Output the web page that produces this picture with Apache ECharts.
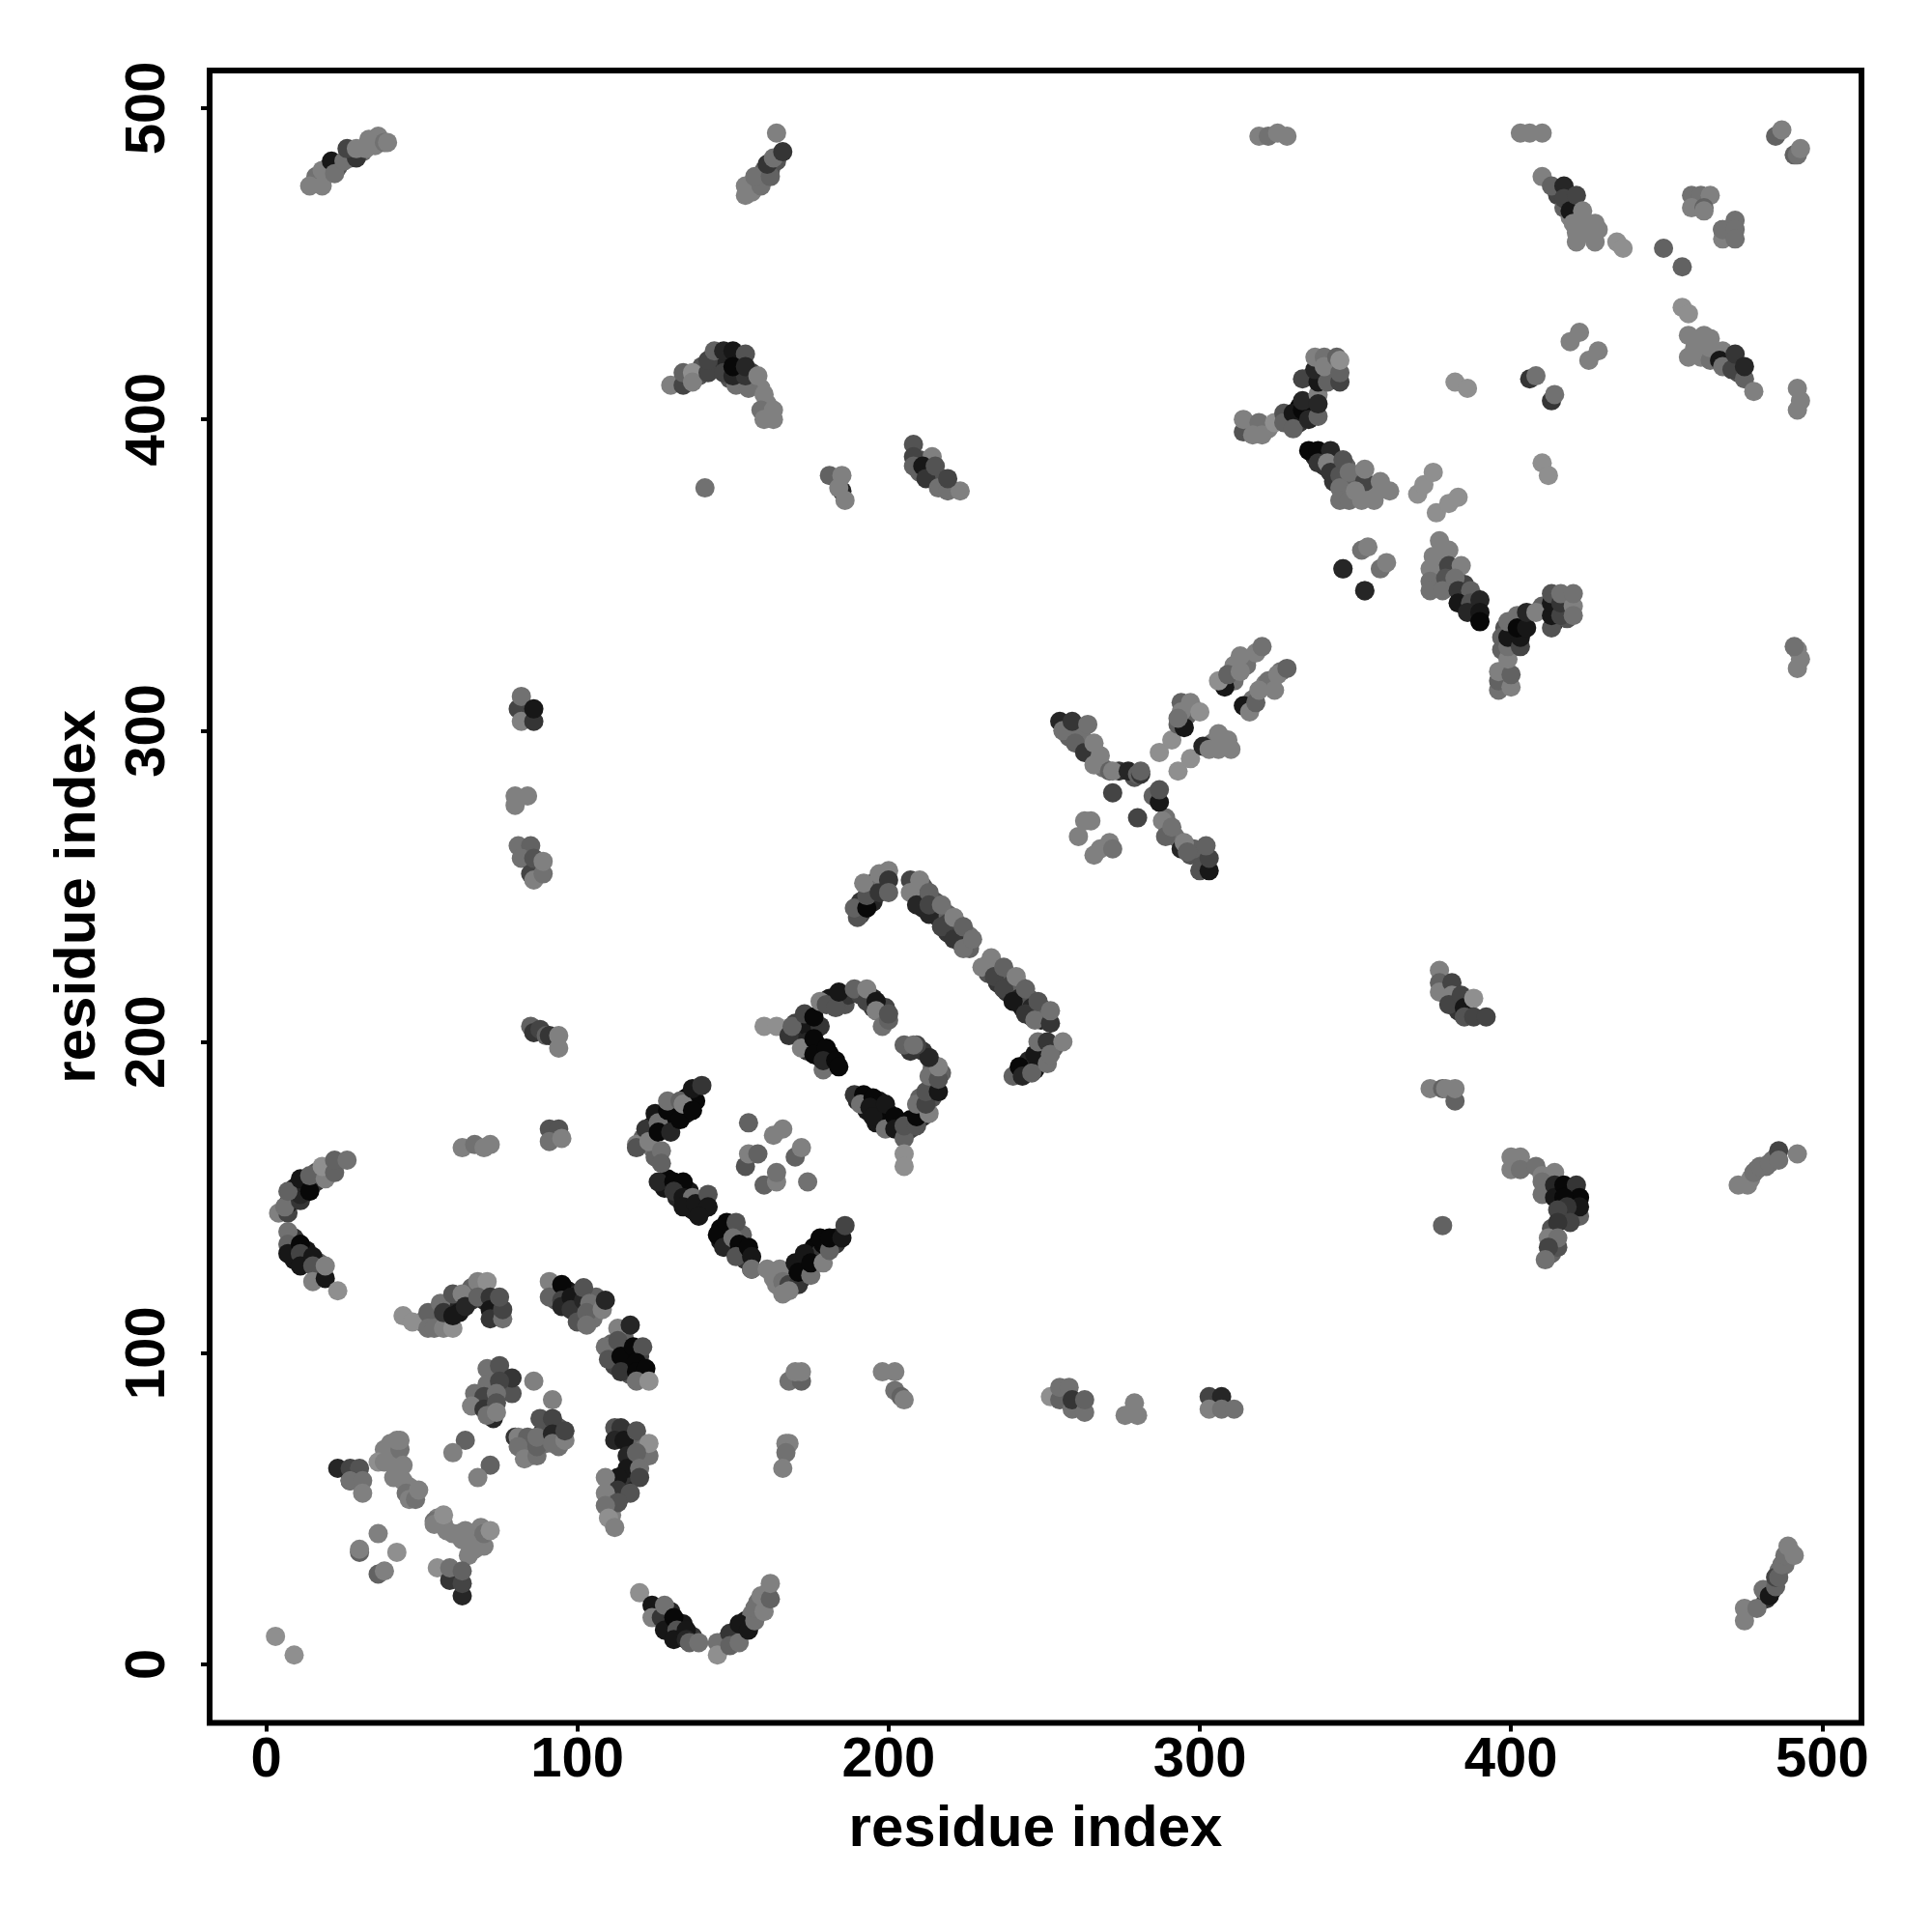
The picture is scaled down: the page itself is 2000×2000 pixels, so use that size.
<!DOCTYPE html>
<html><head><meta charset="utf-8">
<style>html,body{margin:0;padding:0;background:#fff}#c{width:2000px;height:2000px}</style>
<script src="https://cdn.jsdelivr.net/npm/echarts@6/dist/echarts.min.js"></script>
</head><body><div id="c"></div>
<script>
// Each contact: [residue i, residue j, score] ; score 0 (darkest) .. 9 (faintest). Order = draw order.
const tickValues=[0,100,200,300,400,500];
const axisTitle="residue index";
const denseLetters=[[208,249,4],[210,246,3],[211,250,5],[211,243,2],[215,245,5],[215,242,3],[216,240,2],[219,241,6],[219,235,3],[219,238,4],[222,238,7],[222,235,4],[223,232,3],[226,234,7],[226,230,6],[225,232,5],[232,225,7],[232,222,5],[235,222,6],[235,219,3],[238,220,6],[238,216,3],[239,218,4],[242,218,6],[242,214,2],[243,211,1],[245,214,5],[246,208,3],[246,211,2],[249,211,5],[249,207,2],[250,209,6],[191,241,4],[191,245,3],[195,245,2],[195,249,5],[195,251,4],[198,250,3],[198,252,7],[244,191,3],[245,194,2],[249,194,4],[249,198,5],[253,198,6],[121,169,6],[124,173,1],[127,176,0],[128,174,1],[131,176,0],[131,179,1],[135,177,1],[135,182,0],[138,181,0],[124,166,7],[125,163,6],[128,153,1],[129,156,0],[132,153,0],[132,150,2],[136,152,1],[136,148,1],[140,149,2],[140,146,1],[137,146,1],[146,140,0],[149,139,1],[146,136,1],[149,135,2],[153,138,6],[153,133,1],[154,130,3],[172,128,0],[174,127,1],[177,131,1],[176,134,0],[178,132,3],[179,135,0],[183,137,1],[183,135,3],[163,124,8],[167,125,7],[169,124,2],[172,124,2],[170,206,4],[170,203,2],[174,205,1],[174,200,2],[174,197,3],[178,205,3],[177,199,0],[178,195,1],[181,196,0],[182,193,1],[181,214,1],[186,212,5],[187,215,3],[191,215,4],[195,214,2],[195,211,3],[198,209,3],[199,211,4],[190,181,2],[193,181,0],[193,178,1],[197,181,1],[197,178,0],[196,174,1],[200,177,0],[200,174,0],[203,173,1],[207,172,4],[207,175,0],[211,176,2],[211,179,5],[210,182,6],[214,182,5],[214,186,6],[214,191,5],[217,190,6],[214,193,6],[211,197,3],[207,197,3]];
const denseLower=[[73,93,5],[73,90,7],[72,88,5],[72,85,6],[68,84,6],[76,89,4],[72,82,5],[71,84,7],[82,71,6],[85,70,5],[85,67,7],[89,72,6],[89,75,3],[90,71,7],[94,73,6],[90,77,5],[94,70,7],[94,76,5],[55,47,8],[57,45,8],[58,43,8],[62,42,8],[67,37,8],[67,41,8],[68,42,7],[69,44,8],[40,71,8],[40,67,8],[41,64,8],[43,61,8],[46,57,8],[47,55,7],[114,74,3],[117,73,5],[117,70,4],[119,71,6],[121,69,7],[118,65,3],[119,61,5],[115,58,2],[115,61,3],[111,57,7],[111,54,7],[114,54,5],[111,50,8],[111,48,8],[50,110,7],[54,110,6],[56,110,7],[58,111,3],[59,116,5],[62,116,2],[62,113,1],[66,121,6],[66,117,3],[70,121,8],[70,117,2],[74,116,5],[74,112,3],[93,120,1],[93,117,5],[97,120,1],[97,116,3],[100,119,2],[100,113,4],[106,118,6],[106,114,7],[105,111,7],[111,103,6],[112,100,5],[115,105,6],[116,100,1],[116,97,1],[112,96,4],[120,99,4],[117,93,5],[121,93,4],[9,149,2],[9,153,1],[12,153,3],[16,158,5],[16,155,3],[20,158,7],[13,155,2],[9,137,3],[9,134,2],[13,133,1],[13,130,1],[17,129,6],[17,126,3],[9,130,1],[126,17,2],[130,17,2],[130,13,1],[134,13,1],[133,9,1],[137,9,3],[151,10,2],[150,8,3],[154,14,1],[153,12,2],[156,16,7],[158,20,7],[161,23,8],[148,8,5]];
const denseUpper=[[329,400,1],[332,404,0],[332,399,3],[336,402,2],[336,404,1],[339,414,2],[336,414,3],[342,418,7],[342,414,6],[343,417,6],[322,397,8],[337,388,2],[340,388,1],[340,385,3],[344,385,5],[343,380,3],[347,380,6],[347,385,6],[351,381,6],[350,375,7],[354,377,8],[357,377,8],[347,376,7],[376,349,7],[376,354,7],[378,358,8],[378,351,6],[381,347,4],[381,351,6],[385,343,2],[385,347,4],[388,343,4],[388,339,2],[397,326,6],[398,333,5],[401,330,1],[401,335,3],[404,335,2],[410,340,6],[414,342,2],[414,335,3],[418,342,4],[418,339,4],[418,336,5],[402,161,8],[412,152,3],[416,152,0],[419,152,0],[420,148,0],[416,148,1],[419,144,2],[417,145,5],[413,140,5],[414,136,6],[413,132,6],[257,302,3],[258,298,6],[261,300,7],[262,298,7],[265,293,7],[267,290,8],[269,288,7],[274,287,3],[279,285,5],[290,268,6],[292,266,7],[294,264,7],[297,260,5],[301,258,5],[298,262,6],[289,272,7],[295,304,7],[296,307,8],[298,307,8],[296,305,6],[304,296,7],[307,296,8],[311,321,8],[315,322,8],[311,316,7],[315,321,7],[317,310,7],[321,315,8],[326,319,7],[322,316,7],[135,413,6],[139,414,5],[140,417,5],[143,419,5],[146,419,3],[148,419,2],[152,420,1],[152,415,1],[149,413,5],[152,412,6],[156,415,4],[156,412,7],[159,410,8],[161,405,8],[415,472,4],[418,470,4],[419,465,8],[422,462,8],[425,462,8],[425,460,8],[459,423,8],[461,424,8],[466,420,7],[470,418,4],[473,415,5],[470,420,5],[16,478,7],[20,481,6],[23,481,5],[27,484,5],[31,486,7],[35,488,8],[156,473,8],[158,477,7],[160,480,6],[162,480,5],[164,483,5],[210,387,5],[210,383,6],[213,383,3],[217,381,5],[218,378,6],[379,216,7],[382,213,2],[383,210,3],[386,212,5],[477,156,8],[479,159,7],[482,160,7],[484,162,7],[482,21,3],[484,24,3],[486,30,7],[488,32,7],[490,36,8]];
const corner=[[3,9,9],[9,3,9]];
const bottomU=[[120,23,9],[124,19,1],[124,15,8],[127,15,3],[128,19,7],[128,11,1],[131,15,0],[132,11,5],[131,8,1],[135,11,1],[135,8,2],[136,7,6],[139,7,7],[145,7,7],[145,3,9],[149,10,3],[149,6,6],[152,7,7],[152,13,1],[155,11,1],[157,14,7],[157,18,7],[160,17,8],[159,22,8],[162,21,6],[162,26,8]];
const groupA=[[23,63,2],[27,63,4],[30,63,5],[27,59,2],[27,59,7],[31,59,7],[31,55,8]];
const groupB=[[38,69,8],[43,69,7],[42,72,8],[43,72,8],[36,65,9],[38,65,8],[44,64,8],[41,60,8],[44,59,8],[45,55,7],[46,53,8],[48,53,7],[49,56,8]];
const groupC=[[54,46,7],[54,45,8],[57,48,9],[60,42,8],[64,43,8],[63,40,8],[65,39,8],[65,35,8],[70,38,8],[70,42,7],[72,43,9]];
const fourDots=[[36,42,8],[30,36,6],[30,37,8],[42,36,9],[36,29,6],[38,30,8]];
const groupD=[[55,31,9],[59,27,3],[59,31,7],[63,22,2],[63,26,4],[63,30,6]];
const pairDots=[[64,72,6],[60,68,8],[72,64,6],[68,60,8],[86,91,8],[92,85,8]];
const groupE=[[71,95,7],[75,96,5],[79,87,5],[79,92,3],[71,90,7],[75,91,4],[67,87,7],[70,86,4],[74,87,7],[66,83,8],[73,79,2],[70,82,3],[74,84,5],[71,80,7],[74,81,8]];
const groupF=[[80,73,3],[81,73,8],[84,73,6],[81,70,7],[83,66,8],[87,67,7],[87,70,6],[87,73,7],[88,79,5],[92,79,4],[92,74,2],[92,71,7],[96,72,8],[96,75,4]];
const groupG=[[112,76,5],[114,76,3],[112,72,2],[115,72,1],[119,75,5],[116,67,2],[116,63,1],[123,67,7],[123,71,9],[119,68,6],[120,63,7],[113,60,1],[109,60,8],[120,60,4],[113,56,3],[117,55,5],[109,55,8],[113,52,5],[109,51,7],[110,47,9],[112,44,8]];
const groupH=[[44,112,9],[47,110,9],[52,113,6],[52,108,7],[56,116,7],[54,108,7],[57,108,8],[60,108,9],[57,113,3],[60,112,1],[60,119,5],[63,119,8],[64,115,2],[68,123,8],[71,123,9],[68,118,6],[72,118,3],[72,114,1],[72,111,3],[76,111,7],[76,114,4],[75,118,5]];
const groupI=[[91,123,8],[91,118,6],[95,122,0],[95,117,4],[95,115,2],[98,118,1],[98,114,3],[102,117,2],[100,110,5],[102,121,5],[104,116,7],[103,113,6],[103,109,7],[108,114,8],[109,117,2]];
const groupJ=[[113,108,8],[117,109,2],[109,102,7],[113,104,5],[110,98,5],[114,99,0],[118,102,0],[121,102,5],[114,94,3],[119,97,0],[119,94,0],[122,95,0],[119,91,7],[123,91,9]];
const leftArc=[[4,145,8],[7,145,4],[7,148,1],[6,147,7],[11,149,3],[11,151,2],[7,152,6],[11,156,1],[14,152,0],[14,157,6],[19,156,8],[18,160,9],[22,158,6],[22,162,6],[26,162,7]];
const leftArcLow=[[7,139,7],[7,135,6],[7,132,1],[11,135,0],[11,132,4],[11,128,1],[15,131,1],[15,128,5],[15,123,8],[19,124,1],[19,128,8],[23,120,9]];
const topArcA=[[14,475,8],[18,475,8],[18,480,8],[21,483,1],[22,479,7],[25,483,7],[29,484,3],[26,487,4],[29,487,8],[32,487,8],[33,490,8],[36,491,8],[38,489,7],[39,489,8]];
const topArcB=[[154,472,8],[154,475,8],[159,475,7],[157,478,7],[162,478,6],[161,482,3],[163,484,7],[166,486,3],[164,492,8]];
const upperMidA=[[130,411,8],[134,411,4],[134,415,6],[137,415,9],[137,412,8],[142,415,4],[142,419,4],[144,422,6],[147,422,2],[147,415,4],[150,422,1],[151,411,7],[155,410,7],[150,414,2],[154,414,3],[154,421,5],[150,417,0],[154,417,2],[158,414,8],[160,408,8],[159,403,7],[163,403,8],[160,400,8],[163,400,8]];
const upperMidB=[[141,378,7],[181,382,6],[185,377,2],[185,382,8],[184,378,8],[186,374,8]];
const upperMidC=[[208,392,5],[208,388,4],[208,385,6],[214,388,8],[211,385,1],[212,381,3],[215,385,5],[216,378,7],[219,377,7],[223,377,8],[219,381,4]];
const vertCol=[[81,307,4],[82,311,7],[82,303,8],[86,303,3],[86,307,1],[80,279,8],[84,279,8],[80,276,8],[81,263,7],[85,263,6],[82,259,7],[85,254,4],[86,259,5],[86,252,8],[89,254,7],[89,258,8]];
const vertColB=[[85,205,6],[86,203,3],[88,204,4],[90,202,6],[91,202,3],[94,202,8],[94,198,8],[91,172,5],[94,172,5],[91,168,7],[95,169,8],[63,166,8],[67,167,7],[70,166,8],[72,167,8]];
const letterC=[[119,167,8],[119,166,5],[122,172,3],[123,168,8],[125,177,1],[126,174,7],[126,171,0],[129,178,0],[130,171,2],[129,181,7],[133,181,6],[133,175,0],[134,180,8],[137,178,0],[137,185,1],[140,186,3],[127,165,7],[127,161,6]];
const letterCLow=[[126,155,2],[131,155,0],[134,155,0],[131,152,3],[134,150,1],[137,150,7],[134,147,1],[138,148,1],[142,151,5],[142,147,1],[139,144,1],[145,138,0],[148,142,0],[151,142,5],[147,134,2],[150,137,7],[152,135,0],[151,131,5],[155,134,0],[156,131,1],[156,127,2],[156,127,7]];
const letterCFoot=[[161,127,8],[165,127,8],[164,122,8],[166,123,7],[168,122,4],[171,122,3],[166,119,8],[168,120,8],[170,129,1],[173,132,1],[171,126,0],[175,125,7],[175,129,0],[179,129,8],[178,137,0],[181,133,6],[181,137,0],[185,137,1],[186,141,4]];
const innerFour=[[155,174,6],[163,170,8],[166,172,8],[154,160,5],[155,164,8],[158,164,6],[160,154,6],[164,155,8],[164,158,7],[170,163,6],[172,166,8],[174,155,7]];
const letterD=[[160,205,9],[164,205,9],[168,202,3],[169,205,6],[172,198,8],[173,209,4],[176,208,0],[176,201,0],[176,196,0],[178,213,8],[180,212,5],[180,198,0],[179,191,7],[179,194,2],[183,194,0],[184,192,0],[183,211,5],[184,216,1],[189,217,6],[193,213,4],[193,217,8],[196,213,1],[196,210,8],[198,205,7],[200,207,6],[200,209,5]];
const letterDLow=[[189,183,3],[192,183,0],[191,180,7],[195,182,0],[194,179,1],[195,176,1],[199,180,1],[199,172,7],[202,176,0],[202,172,1],[205,169,6],[205,173,5],[205,164,9],[205,160,9],[209,173,5],[209,176,0],[209,180,7],[213,177,8],[212,180,4],[212,184,5],[216,184,1],[213,189,7],[216,188,5],[216,192,8],[213,195,2],[209,199,4],[205,199,6],[208,199,7]];
const bracket=[[190,240,5],[189,243,6],[193,243,0],[193,247,5],[192,251,8],[197,248,3],[197,254,8],[200,255,8],[200,252,3],[200,248,6],[207,252,4],[207,248,8],[210,252,8],[209,244,2],[213,248,6],[213,241,2],[213,244,4],[217,237,4],[217,244,7],[221,233,3],[221,240,8],[224,230,7],[224,237,6],[227,233,7]];
const bracketLow=[[233,227,8],[230,224,8],[234,221,4],[237,224,6],[237,217,4],[240,213,1],[241,221,8],[244,209,3],[244,217,6],[247,207,7],[248,213,5],[252,206,3],[252,210,7]];
const hook=[[240,189,6],[242,192,0],[243,189,2],[247,191,1],[246,190,6],[247,196,1],[251,193,7],[248,200,7],[251,200,3],[252,196,7],[256,200,8]];
const crossNW=[[255,303,2],[256,300,7],[259,303,3],[264,302,7],[260,296,6],[263,293,3],[266,296,8],[268,292,8],[266,289,8],[271,287,6],[272,287,8],[277,287,2],[280,286,6],[281,286,3],[281,287,6]];
const crossMid=[[272,280,4],[280,272,4],[287,293,9],[291,297,9],[293,287,9],[297,291,9]];
const crossSE=[[285,279,6],[287,277,1],[287,281,5],[288,271,8],[289,266,6],[291,269,7],[294,262,2],[295,264,8],[296,261,6],[300,255,5],[303,255,1],[303,259,4],[302,263,6]];
const crossSW=[[263,271,8],[265,271,8],[261,266,8],[266,260,8],[268,262,8],[271,264,8],[272,262,7]];
const crossNE=[[293,302,6],[295,301,1],[294,309,6],[294,306,8],[293,304,7],[297,309,8],[300,306,9],[301,295,2],[303,294,8],[306,294,8],[306,299,8],[309,297,8],[310,294,8],[308,314,1],[306,316,9],[309,318,6],[313,319,8],[313,324,8],[318,325,8],[320,327,7],[314,308,1],[316,306,8],[318,309,6],[319,313,8],[324,313,8],[325,318,8],[328,320,6]];
const upperRightA=[[314,396,5],[314,400,8],[319,399,7],[317,395,8],[320,395,8],[324,399,9],[327,402,5],[327,399,6],[330,402,1],[330,397,6],[333,403,0],[333,406,2],[335,400,2],[338,401,6],[338,408,8],[338,405,2],[333,413,4],[338,412,1],[337,416,2],[341,412,6],[337,420,8],[340,420,7],[340,417,8],[345,412,4],[344,420,6],[345,415,6],[345,419,9]];
const upperRightB=[[335,390,0],[338,390,0],[342,390,2],[338,386,3],[341,386,8],[342,383,3],[345,382,5],[346,387,5],[345,378,7],[345,374,7],[348,383,7],[348,374,7],[353,380,4],[353,384,8],[352,374,8],[350,377,8],[356,374,8],[358,380,8],[361,377,8]];
const smallPairs=[[370,376,9],[372,379,9],[375,383,9],[376,370,9],[380,373,9],[383,375,9],[382,412,9],[386,410,9],[410,386,9],[412,382,9],[406,413,3],[408,414,7],[413,406,3],[414,408,7],[419,425,8],[422,428,8],[425,419,8],[428,422,8]];
const fourRing=[[346,352,7],[346,352,2],[353,345,7],[353,345,2],[352,358,7],[354,359,8],[358,352,7],[360,354,8]];
const midRightA=[[377,361,8],[375,356,8],[380,358,8],[374,352,8],[380,353,4],[384,353,8],[374,348,7],[374,345,7],[379,349,5],[378,345,7],[382,349,7],[383,345,3],[387,345,6],[383,341,1],[387,341,5],[386,338,2],[390,342,2],[390,338,1],[390,335,0]];
const midRightB=[[396,313,7],[396,316,6],[396,319,8],[400,314,8],[400,318,6],[399,323,8],[397,330,6],[399,327,7],[399,330,1],[403,327,4],[403,330,1],[399,335,7],[402,337,7],[402,333,0],[405,333,1],[405,338,2],[408,338,8],[413,333,5],[413,337,1],[413,341,1],[413,344,5],[416,337,4],[416,341,3],[416,344,7],[420,340,8],[420,337,7],[420,344,7]];
const topRightA=[[403,492,8],[406,492,8],[410,492,8],[319,491,8],[322,491,7],[325,492,8],[328,491,8],[410,478,8],[413,475,6],[417,468,6],[417,475,2],[417,471,4],[419,467,1],[421,472,4],[423,467,8],[420,463,8],[421,460,8],[423,464,8],[421,457,8],[427,457,8],[427,463,8],[428,461,8],[434,457,9],[436,455,9],[449,455,6],[455,449,6]];
const topRightB=[[458,472,7],[461,472,7],[464,472,8],[458,468,8],[462,468,6],[462,467,8],[468,461,4],[468,458,8],[468,461,7],[472,464,7],[472,461,7],[472,458,7],[485,491,6],[487,493,8],[491,485,6],[492,485,7],[493,487,8]];
const rightX=[[455,436,9],[457,434,9],[457,427,8],[457,420,8],[462,427,8],[461,420,8],[464,426,8],[464,419,7],[464,423,8],[468,422,8],[467,419,1],[468,417,7],[471,416,4],[472,421,3],[475,413,6],[475,417,2],[478,409,8],[492,410,8],[493,406,8],[492,403,8],[492,326,8],[493,323,8],[492,320,8],[491,327,7]];
const lowRightA=[[377,223,8],[377,219,6],[377,216,8],[381,219,4],[381,215,8],[380,212,4],[384,215,4],[385,211,1],[385,208,5],[388,214,9],[388,208,4],[392,208,4],[374,185,8],[378,185,6],[379,185,8],[382,181,6],[382,185,8],[378,141,6]];
const lowRightB=[[400,163,8],[403,163,8],[400,159,8],[403,159,7],[408,160,7],[410,157,8],[414,158,8],[410,155,7],[410,151,7],[414,154,2],[414,150,1],[417,154,0],[421,154,3],[422,150,0],[417,150,0],[422,144,6],[422,147,1],[418,147,3],[415,146,4],[419,142,4],[415,142,3],[412,137,8],[415,134,5],[415,137,7],[412,134,4],[411,130,7]];
const rightEdge=[[473,154,8],[476,154,8],[478,158,7],[480,160,7],[483,161,7],[486,165,4],[486,162,7],[492,164,8],[475,14,8],[475,18,8],[479,18,7],[481,24,7],[483,22,1],[485,25,6],[485,28,4],[486,28,6],[487,32,7],[488,35,7],[489,38,8],[491,35,8]];
const lowerBand=[[252,86,9],[255,85,6],[255,89,7],[258,89,7],[259,82,7],[259,85,3],[263,81,7],[263,85,6],[276,80,8],[280,80,8],[279,84,8],[303,86,4],[307,86,2],[303,82,8],[307,82,7],[311,82,7],[198,94,8],[202,94,8],[202,88,7],[204,86,6],[205,85,8],[168,91,7],[172,91,6],[170,94,8],[172,94,8],[167,71,8],[168,71,8],[167,68,7],[166,63,8]];

const contacts=[].concat(denseLetters,denseLower,denseUpper,corner,bottomU,groupA,groupB,groupC,fourDots,groupD,pairDots,groupE,groupF,groupG,groupH,groupI,groupJ,leftArc,leftArcLow,topArcA,topArcB,upperMidA,upperMidB,upperMidC,vertCol,vertColB,letterC,letterCLow,letterCFoot,innerFour,letterD,letterDLow,bracket,bracketLow,hook,crossNW,crossMid,crossSE,crossSW,crossNE,upperRightA,upperRightB,smallPairs,fourRing,midRightA,midRightB,topRightA,topRightB,rightX,lowRightA,lowRightB,rightEdge,lowerBand);

const font='"Liberation Sans", Arial, sans-serif';
function axis(min,max,rot,gap,margin){return {type:'value',min:min,max:max,name:axisTitle,nameLocation:'middle',nameGap:gap,
 nameTextStyle:{fontFamily:font,fontWeight:'bold',fontSize:60,color:'#000'},
 splitLine:{show:false},
 axisLine:{show:false,onZero:false},
 axisTick:{show:true,length:9,customValues:tickValues,lineStyle:{color:'#000',width:4}},
 axisLabel:{show:true,customValues:tickValues,rotate:rot,margin:margin,fontFamily:font,fontWeight:'bold',fontSize:58,color:'#000',hideOverlap:false,showMinLabel:true,showMaxLabel:true}};}
const chart=echarts.init(document.getElementById('c'),null,{renderer:'canvas',width:2000,height:2000});
chart.setOption({animation:false,backgroundColor:'#fff',
 grid:{left:217,top:73,width:1710,height:1710.5,show:true,borderColor:'#000',borderWidth:6,backgroundColor:'transparent'},
 xAxis:axis(-18.16,512.6,0,81,10),
 yAxis:axis(-18.8,512.1,90,106,34),
 series:[{type:'scatter',symbol:'circle',symbolSize:20,data:contacts,clip:false,progressive:0,large:false,silent:true,
  itemStyle:{opacity:1,color:p=>{const g=8+p.value[2]*15;return 'rgb('+g+','+g+','+g+')';}}}]});
</script></body></html>
